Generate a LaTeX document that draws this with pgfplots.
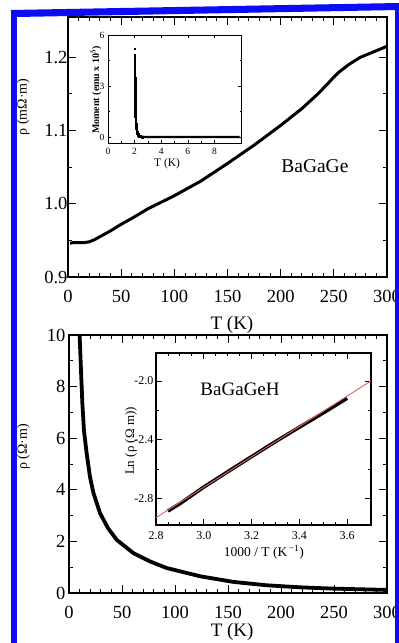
\documentclass[border=0pt]{standalone}
\usepackage{fontspec}
\setmainfont{Liberation Serif}
\usepackage{pgfplots}
\pgfplotsset{compat=1.18}
\definecolor{frameblue}{RGB}{12,12,245}
\definecolor{fitred}{RGB}{235,95,95}
\pgfplotsset{
  mainax/.style={scale only axis, tick align=inside, tick pos=both,
    major tick length=8pt, minor tick length=4pt,
    every tick/.style={black,line width=0.9pt},
    axis line style={line width=1.3pt},
    ticklabel style={font=\fontsize{18.5}{20}\selectfont},
    xticklabel style={yshift=-10pt},
    /pgf/number format/assume math mode=true,
    xlabel style={font=\fontsize{19}{21}\selectfont, anchor=center},
    ylabel style={font=\fontsize{14}{16}\selectfont, anchor=center},
  },
}
\begin{document}
\begin{tikzpicture}
\useasboundingbox (0,0) rectangle (399pt,643pt);
\fill[white] (0,0) rectangle (399pt,643pt);

% ---------- top main panel ----------
\begin{axis}[mainax, at={(68pt,366pt)}, anchor=south west, width=319pt, height=260pt,
  xmin=0, xmax=300, ymin=0.9, ymax=1.255,
  xtick={0,50,...,300}, minor x tick num=4,
  ytick={0.9,1.0,1.1,1.2}, yticklabels={0.9,1.0,1.1,1.2}, minor y tick num=1,
  yticklabel style={xshift=3pt},
  xlabel={T (K)}, xlabel style={at={(axis description cs:0.514,-0.185)}},
  ylabel={ρ (mΩ·m)}, ylabel style={at={(axis description cs:-0.14,0.654)}},
]
\addplot[black, line width=3pt] coordinates {
(2,0.946) (5,0.947) (10,0.947) (15,0.947) (20,0.948) (25,0.951) (30,0.955)
(40,0.963) (50,0.972) (60,0.980) (75,0.993) (100,1.011) (125,1.031)
(150,1.055) (175,1.080) (200,1.107) (220,1.130) (235,1.150) (245,1.165)
(250,1.173) (255,1.180) (265,1.191) (275,1.200) (290,1.209) (300,1.215)};
\node[font=\fontsize{19.5}{21}\selectfont] at (axis description cs:0.774,0.427) {BaGaGe};
\end{axis}

% ---------- top inset ----------
\begin{axis}[scale only axis, at={(108pt,500pt)}, anchor=south west, width=133pt, height=108pt,
  axis background/.style={fill=white},
  xmin=0, xmax=10, ymin=-0.35, ymax=6,
  xtick={0,2,4,6,8}, minor x tick num=1,
  ytick={0,3,6}, minor y tick num=1,
  tick align=inside, tick pos=both, major tick length=3pt, minor tick length=1.5pt,
  every tick/.style={black,line width=0.6pt},
  axis line style={line width=0.9pt},
  ticklabel style={font=\fontsize{9.5}{11}\selectfont},
  xticklabel style={yshift=-1.5pt},
  /pgf/number format/assume math mode=true,
  xlabel={T (K)}, xlabel style={at={(axis description cs:0.444,-0.194)}, anchor=center, font=\fontsize{11.5}{13}\selectfont},
  ylabel={Moment (emu x 10\textsuperscript{5})}, ylabel style={at={(axis description cs:-0.09,0.49)}, anchor=center, font=\bfseries\fontsize{10}{12}\selectfont},
]
\addplot[only marks, mark=square*, mark size=0.9pt, black] coordinates {
(2.00,5.20) (2.00,4.80) (2.00,4.65) (2.00,4.50) (2.005,4.35) (2.005,4.20) (2.01,4.05)
(2.01,3.90) (2.01,3.75) (2.01,3.60) (2.015,3.45) (2.015,3.30) (2.02,3.15) (2.02,3.00)
(2.02,2.85) (2.025,2.70) (2.025,2.55) (2.03,2.40) (2.03,2.25) (2.035,2.10) (2.04,1.95)
(2.04,1.80) (2.05,1.65) (2.05,1.50) (2.06,1.35) (2.07,1.20) (2.08,1.05) (2.09,0.90)
(2.10,0.78) (2.12,0.65) (2.14,0.53) (2.16,0.42) (2.19,0.32) (2.22,0.24) (2.26,0.17)
(2.30,0.11) (2.35,0.07) (2.42,0.04) (2.50,0.02) (2.60,0.01)};
\addplot[black, line width=2.2pt] coordinates {(2.5,0.02) (3,0.0) (4,0.0) (5,0.0) (6,0.0) (7,0.0) (8,0.0) (9,0.0) (9.9,0.0)};
\end{axis}

% ---------- bottom main panel ----------
\begin{axis}[mainax, at={(69pt,50pt)}, anchor=south west, width=318pt, height=258pt,
  xmin=0, xmax=300, ymin=0, ymax=10,
  xtick={0,50,...,300}, minor x tick num=4,
  ytick={0,2,...,10}, minor y tick num=1,
  xlabel={T (K)}, xlabel style={at={(axis description cs:0.513,-0.152)}},
  ylabel={ρ (Ω·m)}, ylabel style={at={(axis description cs:-0.143,0.566)}},
]
\addplot[black, line width=3.8pt] coordinates {
(10,10.0) (11.3,8.65) (12.6,7.35) (14.1,6.3) (16.7,5.4) (19.8,4.5) (22.9,3.9)
(29.2,3.1) (37,2.5) (45,2.06) (60.6,1.55) (76,1.23) (92,0.97) (123.5,0.65)
(155,0.43) (186,0.30) (218,0.22) (249,0.17) (299,0.12)};
\end{axis}

% ---------- bottom inset ----------
\begin{axis}[scale only axis, at={(156pt,118pt)}, anchor=south west, width=215pt, height=172pt,
  axis background/.style={fill=white},
  xmin=2.8, xmax=3.7, ymin=-2.98, ymax=-1.81,
  xtick={2.8,3.0,3.2,3.4,3.6}, xticklabels={2.8,3.0,3.2,3.4,3.6}, minor x tick num=3,
  ytick={-2.8,-2.4,-2.0}, yticklabels={-2.8,-2.4,-2.0}, minor ytick={-2.6,-2.2},
  tick align=inside, tick pos=both, major tick length=6pt, minor tick length=3pt,
  every tick/.style={black,line width=0.8pt},
  axis line style={line width=1.1pt},
  ticklabel style={font=\fontsize{12}{14}\selectfont},
  xticklabel style={yshift=-3pt},
  yticklabel style={xshift=1pt},
  xlabel={1000 / T (K\textsuperscript{\,−1})}, xlabel style={at={(axis description cs:0.502,-0.157)}, anchor=center, font=\fontsize{13.5}{15}\selectfont},
  ylabel={Ln (ρ (Ω m))}, ylabel style={at={(axis description cs:-0.116,0.488)}, anchor=center, font=\fontsize{13}{15}\selectfont},
]
\addplot[black, line width=3.5pt] coordinates {
(2.85,-2.885) (2.9,-2.835) (3.0,-2.722) (3.1,-2.618) (3.2,-2.515) (3.3,-2.413)
(3.4,-2.315) (3.5,-2.218) (3.6,-2.118)};
\addplot[fitred, line width=0.9pt] coordinates {(2.8,-2.93) (3.7,-2.0)};
\node[font=\fontsize{19}{21}\selectfont] at (axis description cs:0.391,0.791) {BaGaGeH};
\end{axis}

% ---------- blue frame ----------
\fill[frameblue] (10.5pt,0) rectangle (16.5pt,633pt);
\fill[frameblue] (10.5pt,633pt) -- (399pt,640pt) -- (399pt,633pt) -- (16.5pt,626pt) -- cycle;
\fill[frameblue] (395pt,0) rectangle (399pt,640pt);
\end{tikzpicture}
\end{document}
